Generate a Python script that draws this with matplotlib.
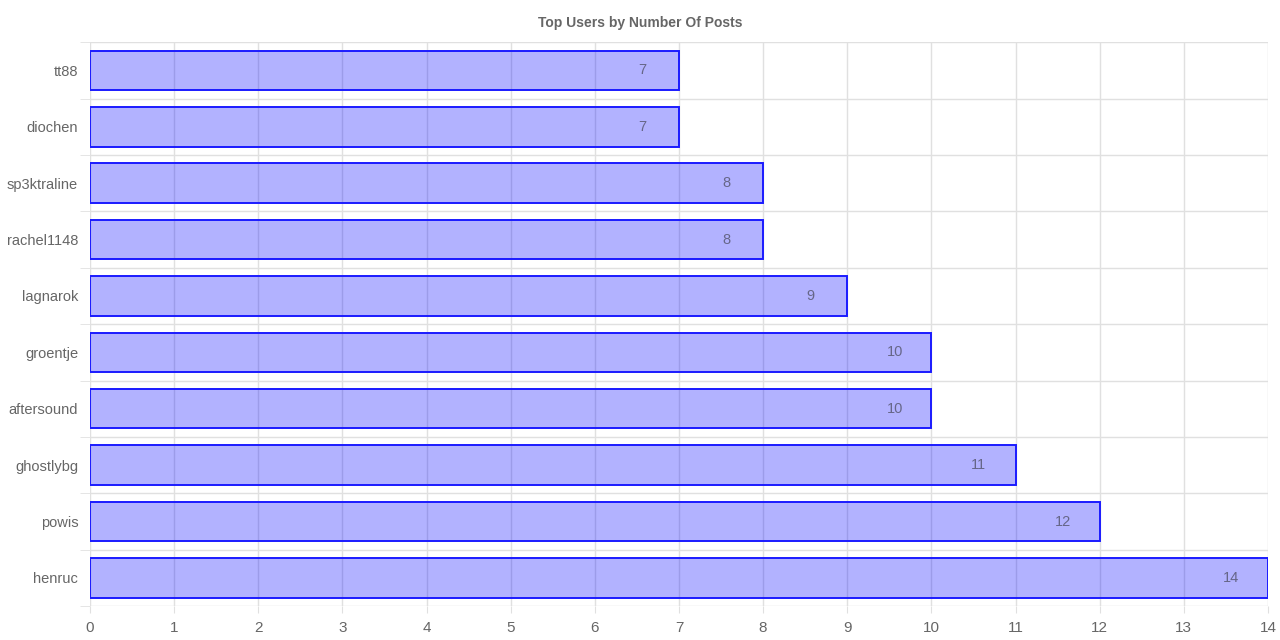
import numpy as np
import matplotlib.pyplot as plt

#%% Data
users = ["henruc", "powis", "ghostlybg", "aftersound", "groentje",
         "lagnarok", "rachel1148", "sp3ktraline", "diochen", "tt88"]
posts = [14, 12, 11, 10, 10, 9, 8, 8, 7, 7]

#%% Plot
plt.rcParams['font.family'] = ['Liberation Sans', 'DejaVu Sans']
fig = plt.figure(figsize=(12.8, 6.4), dpi=100)
ax = fig.add_axes([0.0703, 0.053, 0.9203, 0.881])

ypos = np.arange(len(users))
ax.barh(ypos, posts, height=0.7, color=(0, 0, 1, 0.3),
        edgecolor='#1a1aff', linewidth=1.4, zorder=3)

for y, v in zip(ypos, posts):
    ax.annotate(str(v), (v, y), xytext=(-26.5, 0), textcoords='offset points',
                ha='center', va='center', fontsize=10.5, color='#666688', zorder=4)

ax.set_xlim(0, 14)
ax.set_ylim(-0.5, len(users) - 0.5)
ax.set_xticks(np.arange(0, 15, 1))
ax.set_yticks(ypos)
ax.set_yticklabels(users)
ax.set_yticks(np.arange(-0.5, len(users), 1), minor=True)

ax.grid(True, axis='x', which='major', color='#e0e0e0', linewidth=1, zorder=0)
ax.grid(True, axis='y', which='minor', color='#e0e0e0', linewidth=1, zorder=0)
ax.tick_params(axis='x', which='major', length=5, color='#e0e0e0',
               labelsize=11, labelcolor='#666666', pad=6)
ax.tick_params(axis='y', which='major', length=0, labelsize=10.5,
               labelcolor='#666666', pad=8.5)
ax.tick_params(axis='y', which='minor', length=7, color='#e0e0e0')
for s in ax.spines.values():
    s.set_visible(False)

fig.suptitle("Top Users by Number Of Posts", y=0.975, fontsize=10,
             fontweight='bold', color='#666666')

fig.savefig("out.png", dpi=100)
